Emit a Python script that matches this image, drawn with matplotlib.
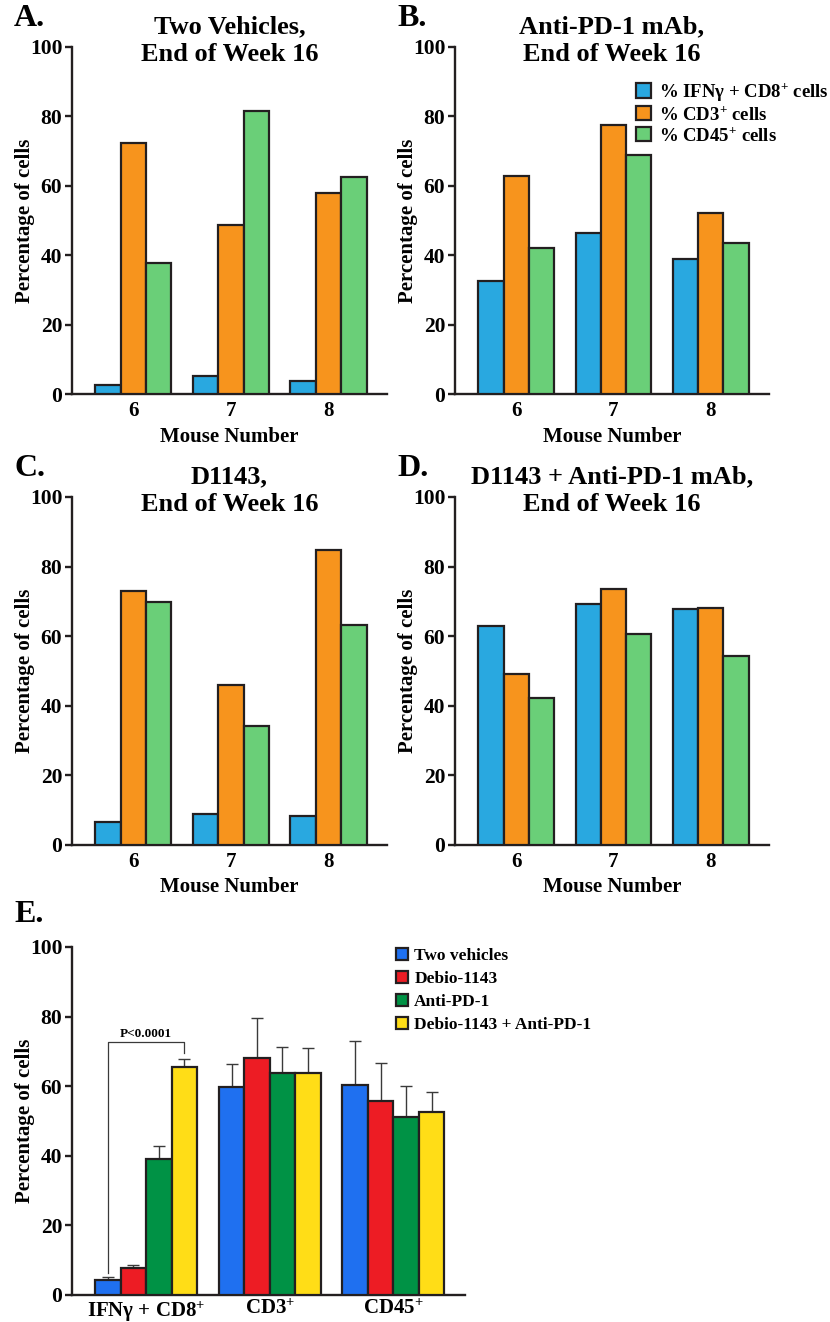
import matplotlib
matplotlib.use("Agg")
import matplotlib.pyplot as plt
import numpy as np

plt.rcParams['font.family'] = ['Liberation Serif', 'DejaVu Serif']
plt.rcParams['font.weight'] = 'bold'
plt.rcParams['mathtext.fontset'] = 'custom'
plt.rcParams['mathtext.rm'] = 'Liberation Serif:bold'
plt.rcParams['mathtext.it'] = 'Liberation Serif:bold:italic'
plt.rcParams['mathtext.bf'] = 'Liberation Serif:bold'

# ---------------- data ----------------
mice = [6, 7, 8]
series_labels = ['% IFNγ + CD8$^{+}$ cells', '% CD3$^{+}$ cells', '% CD45$^{+}$ cells']

a_ifn = [2.5, 5.1, 3.7]
a_cd3 = [72.2, 48.8, 57.9]
a_cd45 = [37.7, 81.5, 62.5]

b_ifn = [32.5, 46.3, 38.8]
b_cd3 = [62.8, 77.5, 52.3]
b_cd45 = [42.0, 69.0, 43.6]

c_ifn = [6.5, 9.0, 8.2]
c_cd3 = [73.0, 46.0, 84.8]
c_cd45 = [69.7, 34.1, 63.2]

d_ifn = [62.8, 69.3, 67.8]
d_cd3 = [49.2, 73.5, 68.0]
d_cd45 = [42.2, 60.7, 54.4]

titles = ['Two Vehicles,\nEnd of Week 16',
          'Anti-PD-1 mAb,\nEnd of Week 16',
          'D1143,\nEnd of Week 16',
          'D1143 + Anti-PD-1 mAb,\nEnd of Week 16']
letters = ['A.', 'B.', 'C.', 'D.']

e_categories = ['IFNγ + CD8$^{+}$', 'CD3$^{+}$', 'CD45$^{+}$']
e_groups = ['Two vehicles', 'Debio-1143', 'Anti-PD-1', 'Debio-1143 + Anti-PD-1']
e_vehicles = [4.4, 59.9, 60.3]
e_debio = [7.8, 68.0, 55.8]
e_antipd1 = [39.1, 63.9, 51.2]
e_combo = [65.6, 63.9, 52.5]
e_vehicles_err = [0.8, 6.6, 12.6]
e_debio_err = [0.9, 11.6, 11.0]
e_antipd1_err = [3.8, 7.4, 8.9]
e_combo_err = [2.2, 7.2, 5.7]
p_text = 'P<0.0001'

# ---------------- styles ----------------
col3 = ['#29A8E0', '#F7941D', '#6ACF78']
col4 = ['#1F70F0', '#ED1C24', '#009245', '#FFDD17']
edge = '#231F20'
W, H = 830, 1322
fig = plt.figure(figsize=(W / 100, H / 100), dpi=100)


def px_axes(left, top, right, bottom):
    return fig.add_axes([left / W, 1 - bottom / H, (right - left) / W, (bottom - top) / H])


def style_axes(ax):
    for s in ['top', 'right']:
        ax.spines[s].set_visible(False)
    for s in ['left', 'bottom']:
        ax.spines[s].set_linewidth(1.7)
        ax.spines[s].set_color(edge)
    ax.set_ylim(0, 100)
    ax.set_yticks([0, 20, 40, 60, 80, 100])
    ax.tick_params(axis='y', length=5, width=1.7, color=edge, labelsize=15.5, pad=2)
    ax.tick_params(axis='x', length=0, labelsize=15, pad=5)
    ax.set_ylabel('Percentage of cells', fontsize=15, fontweight='bold', labelpad=-4)


panel_data = [(a_ifn, a_cd3, a_cd45), (b_ifn, b_cd3, b_cd45),
              (c_ifn, c_cd3, c_cd45), (d_ifn, d_cd3, d_cd45)]
boxes = [(72, 47, 387, 394), (455, 47, 769, 394),
         (72, 497, 387, 845), (455, 497, 769, 845)]
letter_pos = [(14, 19), (397, 19), (14, 469), (397, 469)]

bw = 0.26
x = np.array(mice, dtype=float)
for i, (box, vals) in enumerate(zip(boxes, panel_data)):
    ax = px_axes(*box)
    for j, v in enumerate(vals):
        ax.bar(x + (j - 1) * bw, v, width=bw, color=col3[j], edgecolor=edge,
               linewidth=1.6, label=series_labels[j], zorder=3)
    ax.set_xlim(5.37, 8.6)
    ax.set_xticks(mice)
    ax.set_xticklabels([str(m) for m in mice])
    style_axes(ax)
    ax.set_xlabel('Mouse Number', fontsize=15, fontweight='bold', labelpad=4)
    ax.text(0.5, 1.018, titles[i], transform=ax.transAxes, ha='center', va='center',
            fontsize=19, fontweight='bold', linespacing=1.3)
    fig.text(letter_pos[i][0] / W, 1 - letter_pos[i][1] / H, letters[i],
             fontsize=23, fontweight='bold', va='center', ha='left')
    if i == 1:
        ax.legend(loc='upper left', bbox_to_anchor=(636 / W, 1 - 81 / H),
                  bbox_transform=fig.transFigure, frameon=False,
                  fontsize=13.5, handlelength=0.8, handleheight=0.8,
                  handletextpad=0.4, labelspacing=0.15, borderaxespad=0, borderpad=0)

# ---------------- panel E ----------------
axE = px_axes(72, 947, 465, 1295)
xe = np.arange(len(e_categories), dtype=float)
bwE = 0.206
e_vals = [e_vehicles, e_debio, e_antipd1, e_combo]
e_errs = [e_vehicles_err, e_debio_err, e_antipd1_err, e_combo_err]
for j, (v, er) in enumerate(zip(e_vals, e_errs)):
    pos = xe + (j - 1.5) * bwE
    axE.bar(pos, v, width=bwE, color=col4[j], edgecolor=edge, linewidth=1.6,
            label=e_groups[j], zorder=3)
    axE.errorbar(pos, v, yerr=[np.zeros(len(v)), er], fmt='none', ecolor='#3a3a3a',
                 elinewidth=1.0, capsize=4, capthick=1.0, zorder=2)
axE.set_xlim(-0.6, 2.58)
axE.set_xticks(xe)
axE.set_xticklabels(e_categories)
style_axes(axE)
axE.tick_params(axis='x', pad=3)

# significance bracket between vehicles and combo for first category
xl = xe[0] + (0 - 1.5) * bwE
xr = xe[0] + (3 - 1.5) * bwE
ytop = 72.7
axE.plot([xl, xl, xr, xr],
         [e_vehicles[0] + e_vehicles_err[0] + 1.0, ytop, ytop, e_combo[0] + e_combo_err[0] + 1.6],
         color='#3a3a3a', lw=0.9, zorder=4)
axE.text((xl + xr) / 2, ytop + 0.6, p_text, ha='center', va='bottom', fontsize=9.5,
         fontweight='bold')

axE.legend(loc='upper left', bbox_to_anchor=(396 / W, 1 - 948 / H),
           bbox_transform=fig.transFigure, frameon=False, fontsize=12.5,
           handlelength=0.7, handleheight=0.7, handletextpad=0.35, labelspacing=0.4,
           borderaxespad=0, borderpad=0)
fig.text(14 / W, 1 - 914 / H, 'E.', fontsize=23, fontweight='bold', va='center', ha='left')

fig.savefig('out.png', dpi=100)
